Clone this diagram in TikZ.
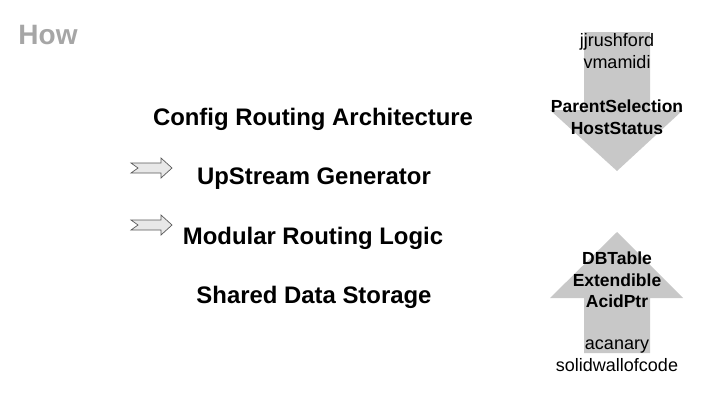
\documentclass[tikz,border=0pt]{standalone}
\usepackage{fontspec}
\setmainfont{Liberation Sans}
\usepackage{tikz}
\usetikzlibrary{positioning}
\usepackage{xcolor}
\definecolor{arrgray}{RGB}{200,200,200}
\definecolor{titlegray}{RGB}{166,166,166}
\definecolor{notchfill}{RGB}{232,232,232}
\definecolor{notchdraw}{RGB}{90,90,90}
\tikzset{
  ttl/.style={font=\fontsize{28}{32}\selectfont\bfseries, text=titlegray,
    inner sep=0pt},
  lbl/.style={font=\fontsize{23.9}{28}\selectfont\bfseries, inner sep=0pt},
  who/.style={font=\fontsize{18}{22}\selectfont, align=center, inner sep=0pt},
  tag/.style={font=\fontsize{17.5}{21.5}\selectfont\bfseries, align=center,
    inner sep=0pt},
  bigarr/.style={fill=arrgray, draw=none},
  notch/.style={fill=notchfill, draw=notchdraw, line width=0.7pt},
}

\begin{document}
\begin{tikzpicture}[x=1pt, y=-1pt]
  \useasboundingbox (0,0) rectangle (720,405);

  % ---- Title ----
  \node[ttl] (how) at (48,35) {How};

  % ---- Big arrows ----
  \fill[bigarr] (584,32) -- (650,32) -- (650,110) -- (683,110)
        -- (617,171) -- (550,110) -- (584,110) -- cycle;
  \fill[bigarr] (617,232) -- (683,298) -- (650,298) -- (650,353)
        -- (584,353) -- (584,298) -- (550,298) -- cycle;

  % ---- Notched arrows ----
  \foreach \y in {168,225} {
    \draw[notch] (131,\y-5) -- (161,\y-5) -- (161,\y-10) -- (172,\y)
          -- (161,\y+10) -- (161,\y+5) -- (131,\y+5) -- (138,\y) -- cycle;
  }

  % ---- Left labels ----
  \node[lbl] (cfg) at (313,119) {Config Routing Architecture};
  \node[lbl] (ups) at (314,179) {UpStream Generator};
  \node[lbl] (mod) at (313,238) {Modular Routing Logic};
  \node[lbl] (shd) at (314,297) {Shared Data Storage};

  % ---- Right labels ----
  \node[who] (top)  at (617,51)  {jjrushford\\vmamidi};
  \node[tag] (psel) at (617,117) {ParentSelection\\HostStatus};
  \node[tag] (dbt)  at (617,280) {DBTable\\Extendible\\AcidPtr};
  \node[who] (bot)  at (617,356) {acanary\\solidwallofcode};
\end{tikzpicture}
\end{document}
